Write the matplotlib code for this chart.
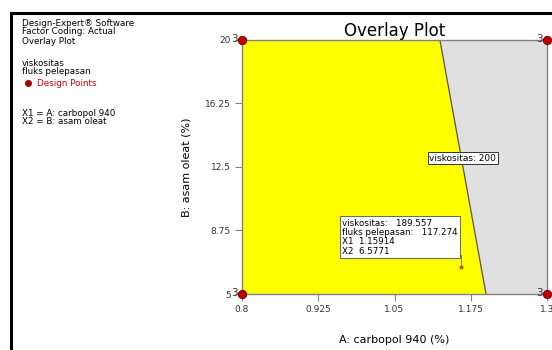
import matplotlib
matplotlib.use("Agg")
import matplotlib.pyplot as plt

# Data
x_range = [0.8, 1.3]
y_range = [5, 20]
x_ticks = [0.8, 0.925, 1.05, 1.175, 1.3]
x_ticklabels = ["0.8", "0.925", "1.05", "1.175", "1.3"]
y_ticks = [5, 8.75, 12.5, 16.25, 20]
y_ticklabels = ["5", "8.75", "12.5", "16.25", "20"]
contour_y = [5, 20]            # viskositas = 200 boundary
contour_x = [1.2, 1.1245]
design_x = [0.8, 0.8, 1.3, 1.3]
design_y = [5, 20, 5, 20]
design_reps = ["3", "3", "3", "3"]
flag_x, flag_y = 1.15914, 6.5771
flag_lines = [("viskositas:", "189.557"), ("fluks pelepasan:", "117.274"),
              ("X1", "1.15914"), ("X2", "6.5771")]

fig = plt.figure(figsize=(5.52, 3.5), dpi=100)
fig.patch.set_facecolor("white")

# outer black frame
fig.add_artist(plt.Line2D([11/552, 1], [1-13/350, 1-13/350], color="black", lw=2.2, transform=fig.transFigure))
fig.add_artist(plt.Line2D([11/552, 11/552], [0, 1-13/350], color="black", lw=2.2, transform=fig.transFigure))

ax = fig.add_axes([242/552, 1-294/350, 305/552, 254/350])
ax.set_xlim(*x_range)
ax.set_ylim(*y_range)

ax.fill_betweenx(contour_y, [x_range[0]]*2, contour_x, color="#ffff00", zorder=1)
ax.fill_betweenx(contour_y, contour_x, [x_range[1]]*2, color="#e0e0e0", zorder=1)
ax.plot(contour_x, contour_y, color="#555555", lw=0.9, zorder=2)

for s in ax.spines.values():
    s.set_color("#808080")
    s.set_linewidth(1.0)

ax.set_xticks(x_ticks)
ax.set_xticklabels(x_ticklabels)
ax.set_yticks(y_ticks)
ax.set_yticklabels(y_ticklabels)
ax.tick_params(axis="both", labelsize=6.5, colors="#808080", labelcolor="#333333",
               length=5, width=0.8, direction="out")
ax.tick_params(axis="x", pad=3)
ax.tick_params(axis="y", pad=3)

ax.scatter(design_x, design_y, s=36, color="#c00000", edgecolor="#600000", lw=0.6, zorder=5, clip_on=False)
for x, y, r in zip(design_x, design_y, design_reps):
    ax.annotate(r, (x, y), xytext=(-3, 1), textcoords="offset points", ha="right", va="center",
                fontsize=7.5, color="#333333", zorder=6, annotation_clip=False)

ax.set_title("Overlay Plot", fontsize=12, pad=2, color="black")
ax.set_xlabel("A: carbopol 940 (%)", fontsize=8, labelpad=15)
ax.set_ylabel("B: asam oleat (%)", fontsize=8, labelpad=10)

# contour label
ax.text(1.162, 13.03, "viskositas: 200", fontsize=6.5, ha="center", va="center",
        bbox=dict(boxstyle="square,pad=0.15", fc="white", ec="#333333", lw=0.7), zorder=7)

# flag
ax.plot([flag_x], [flag_y], marker="o", ms=2, color="#c06000", zorder=6)
ax.plot([flag_x, flag_x], [flag_y, 7.3], color="#666666", lw=0.6, zorder=6)
txt = "\n".join(f"{a}   {b}" if i < 2 else f"{a}  {b}" for i, (a, b) in enumerate(flag_lines))
ax.text(0.964, 9.45, txt, fontsize=6.3, ha="left", va="top", linespacing=1.05,
        bbox=dict(boxstyle="square,pad=0.25", fc="white", ec="#666666", lw=0.7), zorder=7)

# left info text
left = 22/552
def ft(ypx, s, **kw):
    fig.text(left, 1-ypx/350, s, fontsize=6.3, va="center", ha="left", **kw)
ft(23, "Design-Expert\u00ae Software")
ft(32, "Factor Coding: Actual")
ft(41, "Overlay Plot")
ft(63, "viskositas")
ft(72, "fluks pelepasan")
fig.text(37/552, 1-83/350, "Design Points", fontsize=6.3, va="center", ha="left", color="#d00000")
fig.add_artist(plt.Line2D([28/552], [1-83/350], marker="o", ms=4, color="#a00000", transform=fig.transFigure))
ft(113, "X1 = A: carbopol 940")
ft(122, "X2 = B: asam oleat")

fig.savefig("out.png", dpi=100)
